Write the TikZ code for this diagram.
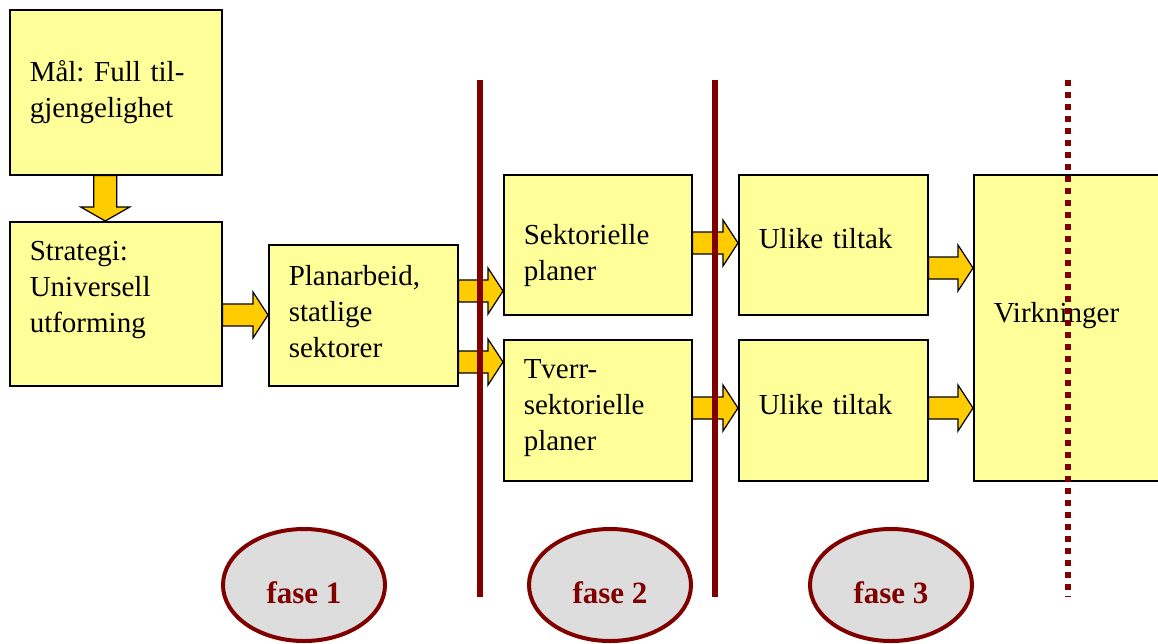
\documentclass[tikz,border=0pt]{standalone}
\usepackage{fontspec}
\setmainfont{Liberation Serif}
\usetikzlibrary{calc}
\usetikzlibrary{shapes.geometric}
\definecolor{boxyellow}{HTML}{FFFF99}
\definecolor{arrowyellow}{HTML}{FFCC00}
\definecolor{fasered}{HTML}{800000}
\definecolor{fasegray}{HTML}{DDDDDD}
\frenchspacing
\tikzset{
  box/.style = {draw, line width = 1.5pt, fill = boxyellow, anchor = north west, align = left,
    inner xsep = 20pt, inner ysep = 0pt, font = {\fontsize{29pt}{36pt}\selectfont}},
  fatarrow/.style = {draw, line width = 1.2pt, fill = arrowyellow, line join = miter},
  faseline/.style = {fasered, line width = 6pt},
  fase/.style = {ellipse, draw = fasered, line width = 4pt, fill = fasegray, inner sep = 0pt,
    minimum width = 162pt, minimum height = 112pt, text = fasered,
    font = {\fontsize{31pt}{36pt}\selectfont\bfseries}}
}
% block arrow from #1 to #2 at height #3
\newcommand{\fatarrowh}[3]{%
  \draw[fatarrow] let \p1 = (#1.east), \p2 = (#2.west), \p3 = (0,#3) in
    (\x1, \y3 + 11pt) -- (\x2 - 15pt, \y3 + 11pt) -- (\x2 - 15pt, \y3 + 23pt) -- (\x2, \y3)
    -- (\x2 - 15pt, \y3 - 23pt) -- (\x2 - 15pt, \y3 - 11pt) -- (\x1, \y3 - 11pt) -- cycle;
}

\begin{document}
\begin{tikzpicture}[x = 1pt, y = -1pt]
\clip (0,0) rectangle (1158,643);

\node[box, text width = 172pt, minimum height = 165pt] (mal) at (9,9) {M\aa l: Full til-\\gjengelighet};
\node[box, text width = 172pt, minimum height = 164pt] (strategi) at (9,221) {Strategi:\\Universell\\utforming\rule[-34pt]{0pt}{0pt}};
\node[box, text width = 149pt, minimum height = 141pt] (plan) at (268,244) {Planarbeid,\\statlige\\sektorer\rule[-8pt]{0pt}{0pt}};
\node[box, text width = 148pt, minimum height = 140pt] (sektor) at (503,174) {\rule{0pt}{42pt}Sektorielle\\planer};
\node[box, text width = 148pt, minimum height = 141pt] (tverr) at (503,339) {Tverr-\\sektorielle\\planer\rule[-11pt]{0pt}{0pt}};
\node[box, text width = 149pt, minimum height = 140pt] (tiltakA) at (738,174) {Ulike tiltak\rule[-12pt]{0pt}{0pt}};
\node[box, text width = 149pt, minimum height = 141pt] (tiltakB) at (738,339) {Ulike tiltak\rule[-11pt]{0pt}{0pt}};
\node[box, text width = 200pt, minimum height = 306pt] (virk) at (973,174) {Virkninger\rule[-30pt]{0pt}{0pt}};

\draw[fatarrow] let \p1 = (mal.south), \p2 = (strategi.north) in
  (\x1 - 22pt, \y1) -- (\x1 - 22pt, \y2 + 14pt) -- (\x1 - 35pt, \y2 + 14pt) -- (\x1 - 10.5pt, \y2)
  -- (\x1 + 14pt, \y2 + 14pt) -- (\x1 + 1pt, \y2 + 14pt) -- (\x1 + 1pt, \y1) -- cycle;

\fatarrowh{strategi}{plan}{315}
\fatarrowh{plan}{sektor}{291}
\fatarrowh{plan}{tverr}{362}
\fatarrowh{sektor}{tiltakA}{243}
\fatarrowh{tverr}{tiltakB}{408}
\fatarrowh{tiltakA}{virk}{268}
\fatarrowh{tiltakB}{virk}{408}

\draw[faseline] (480,80) -- (480,597);
\draw[faseline] (715,80) -- (715,597);
\draw[faseline, dash pattern = on 6pt off 6pt] (1068,80) -- (1068,597);

\node[fase] (fase1) at (304,585) {\raisebox{-18pt}[0pt][0pt]{fase 1}};
\node[fase] (fase2) at (610,585) {\raisebox{-18pt}[0pt][0pt]{fase 2}};
\node[fase] (fase3) at (891,585) {\raisebox{-18pt}[0pt][0pt]{fase 3}};
\end{tikzpicture}
\end{document}
